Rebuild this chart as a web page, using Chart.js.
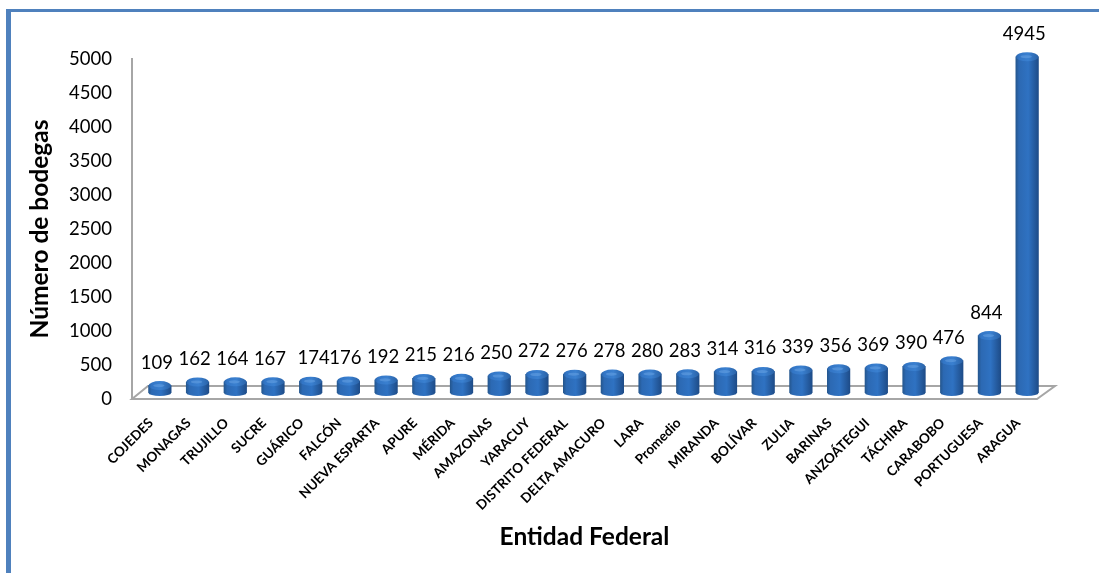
<!DOCTYPE html>
<html>
<head>
<meta charset="utf-8">
<script src="https://cdn.jsdelivr.net/npm/chart.js@4"></script>
<style>
  html, body { margin: 0; padding: 0; background: #fff; overflow: hidden; }
  #wrap { position: relative; width: 1099px; height: 573px; }
  #edgeTop { position: absolute; left: 6px; top: 9px; right: 0; height: 3px; background: #4f81bd; }
  #edgeLeft { position: absolute; left: 6px; top: 9px; bottom: 0; width: 5px; background: #4f81bd; }
  canvas { position: absolute; left: 0; top: 0; }
</style>
</head>
<body>
<div id="wrap">
  <canvas id="chart" width="1099" height="573"></canvas>
  <div id="edgeTop"></div>
  <div id="edgeLeft"></div>
</div>
<script>
var categories = ['COJEDES', 'MONAGAS', 'TRUJILLO', 'SUCRE', 'GUÁRICO', 'FALCÓN', 'NUEVA ESPARTA', 'APURE', 'MÉRIDA', 'AMAZONAS', 'YARACUY', 'DISTRITO FEDERAL', 'DELTA AMACURO', 'LARA', 'Promedio', 'MIRANDA', 'BOLÍVAR', 'ZULIA', 'BARINAS', 'ANZOÁTEGUI', 'TÁCHIRA', 'CARABOBO', 'PORTUGUESA', 'ARAGUA']
var bodegas = [109, 162, 164, 167, 174, 176, 192, 215, 216, 250, 272, 276, 278, 280, 283, 314, 316, 339, 356, 369, 390, 476, 844, 4945]
var yTicks = [0, 500, 1000, 1500, 2000, 2500, 3000, 3500, 4000, 4500, 5000]

var fontName = 'Lato, Carlito, sans-serif'
var barWidth = 22.6
// the fake 3d look: bars sit back from the axis on the floor
var depthX = 9
var depthY = -6

function barGradient(ctx, x, stops) {
    var g = ctx.createLinearGradient(x - barWidth / 2, 0, x + barWidth / 2, 0)
    g.addColorStop(0, stops[0])
    g.addColorStop(0.14, stops[1])
    g.addColorStop(0.55, stops[2])
    g.addColorStop(1, stops[3])
    return g
}

var sideColors = ['#25578f', '#2c69b3', '#2f72c2', '#1e4c88']
var capColors = ['#2b64a8', '#3376c6', '#3a80d0', '#2a62a6']

var floorAndCaps = {
    id: 'floorAndCaps',
    beforeDatasetsDraw: function (chart) {
        var c = chart.ctx
        c.save()
        c.beginPath()
        c.moveTo(132, 399)
        c.lineTo(148, 386)
        c.lineTo(1055, 386)
        c.lineTo(1037, 399)
        c.closePath()
        c.fillStyle = '#ffffff'
        c.fill()
        c.strokeStyle = '#a6a6a6'
        c.lineWidth = 2
        c.stroke()
        c.restore()
        c.save()
        c.translate(depthX, depthY)
    },
    afterDatasetsDraw: function (chart) {
        var c = chart.ctx
        var bars = chart.getDatasetMeta(0).data
        var base = chart.scales.y.getPixelForValue(0)
        bars.forEach(function (bar) {
            var rx = barWidth / 2
            c.beginPath()
            c.ellipse(bar.x, base, rx, 3, 0, 0, Math.PI)
            c.fillStyle = barGradient(c, bar.x, sideColors)
            c.fill()

            c.beginPath()
            c.ellipse(bar.x, bar.y, rx, 4.5, 0, 0, Math.PI * 2)
            c.fillStyle = barGradient(c, bar.x, capColors)
            c.fill()

            c.beginPath()
            c.ellipse(bar.x - 1, bar.y, rx * 0.5, 1.6, 0, 0, Math.PI * 2)
            c.fillStyle = 'rgba(120,175,235,0.4)'
            c.fill()
        })
        c.restore()

        // value labels, sitting above each cap
        c.save()
        c.font = '18.5px ' + fontName
        c.fillStyle = '#000'
        c.textAlign = 'center'
        c.textBaseline = 'middle'
        bars.forEach(function (bar, i) {
            var nudge = categories[i] === 'GUÁRICO' ? 3 : -3
            c.fillText(String(bodegas[i]), bar.x + depthX + nudge, bar.y + depthY - 23)
        })
        c.restore()
    }
}

var ctx = document.getElementById('chart').getContext('2d')
var myChart = new Chart(ctx, {
    type: 'bar',
    data: {
        labels: categories,
        datasets: [{
            label: 'Número de bodegas',
            data: bodegas,
            barThickness: barWidth,
            borderWidth: 0,
            backgroundColor: function (context) {
                var x = context.chart.scales.x.getPixelForValue(context.dataIndex)
                // scales have no size yet on the first options pass
                if (!isFinite(x)) return '#2f72c2'
                return barGradient(context.chart.ctx, x, sideColors)
            }
        }]
    },
    plugins: [floorAndCaps],
    options: {
        responsive: false,
        animation: false,
        layout: { padding: { top: 59, right: 62, left: 0, bottom: 0 } },
        plugins: { legend: { display: false }, tooltip: { enabled: false } },
        scales: {
            x: {
                afterFit: function (scale) { scale.height = 174 },
                grid: { display: false, drawTicks: false },
                border: { display: false },
                ticks: {
                    font: { family: fontName, size: 13.5, weight: 'bold' },
                    color: '#000',
                    minRotation: 45,
                    maxRotation: 45,
                    autoSkip: false,
                    padding: 16,
                    labelOffset: 0
                },
                title: {
                    display: true,
                    text: 'Entidad Federal',
                    font: { family: fontName, size: 24.5, weight: 'bold' },
                    color: '#000',
                    padding: { top: 0, bottom: 21 }
                }
            },
            y: {
                min: 0,
                max: 5000,
                afterFit: function (scale) { scale.width = 132 },
                afterBuildTicks: function (scale) {
                    scale.ticks = yTicks.map(function (v) { return { value: v } })
                },
                grid: { display: false, drawTicks: false },
                border: { display: true, color: '#a6a6a6', width: 2 },
                ticks: {
                    font: { family: fontName, size: 18.5 },
                    color: '#000',
                    padding: 20,
                    callback: function (value) { return String(value) }
                },
                title: {
                    display: true,
                    text: 'Número de bodegas',
                    font: { family: fontName, size: 24.5, weight: 'bold' },
                    color: '#000',
                    padding: { top: 25, bottom: 0 }
                }
            }
        }
    }
})
</script>
</body>
</html>
